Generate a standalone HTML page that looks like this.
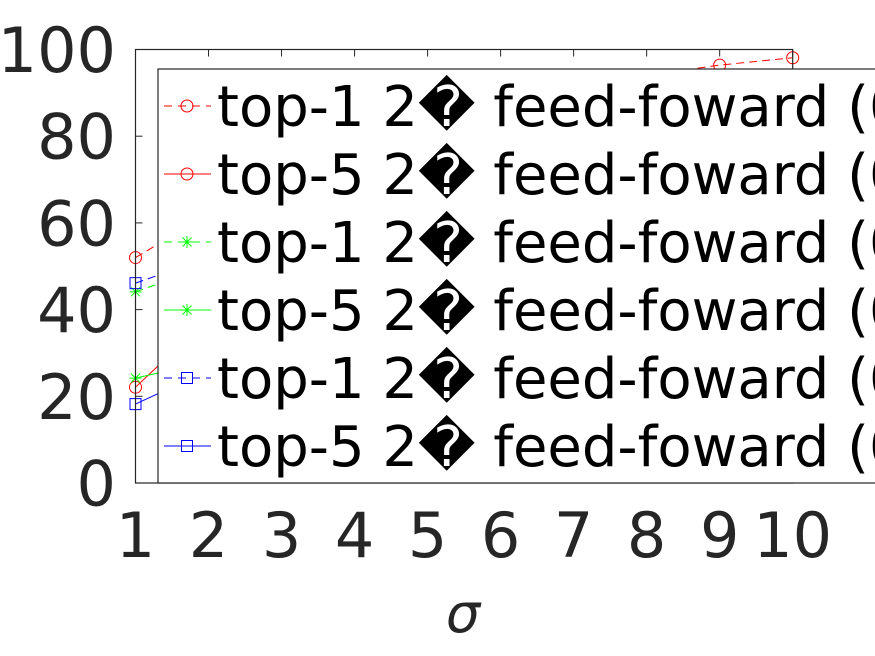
<!DOCTYPE html>
<html><head><meta charset="utf-8"><style>
html,body{margin:0;padding:0;background:#fff;width:875px;height:656px;overflow:hidden}
svg text{font-family:"DejaVu Sans","Liberation Sans",sans-serif}
</style></head><body>
<svg id="chart" width="875" height="656" viewBox="0 0 875 656" xmlns="http://www.w3.org/2000/svg">
<g id="plot"></g>
<g id="axes"></g>
<g id="legend"></g>
</svg>
<script>
const xValues = [1,2,3,4,5,6,7,8,9,10];
const xTicks = [1,2,3,4,5,6,7,8,9,10];
const yTicks = [0,20,40,60,80,100];
const top1Red = [52,62,70,77,83,87,91,94,96.4,98.1];
const top5Red = [22.1,38,50,60,68,75,81,86,90,93];
const top1Green = [44.1,50,56,61,66,70,74,77,80,82];
const top5Green = [24.2,28,32,36,40,44,47,50,53,56];
const top1Blue = [46.1,52,58,63,68,72,76,79,82,84];
const top5Blue = [18.2,26,33,39,45,50,55,59,63,66];
const legendLabels = ["top-1 2\uFFFD feed-foward (0.1)","top-5 2\uFFFD feed-foward (0.1)","top-1 2\uFFFD feed-foward (0.2)","top-5 2\uFFFD feed-foward (0.2)","top-1 2\uFFFD feed-foward (0.3)","top-5 2\uFFFD feed-foward (0.3)"];

const NS="http://www.w3.org/2000/svg";
const X0=135.5,X1=792.7,Y0=483,Y1=49.5;
function xs(v){return X0+(v-1)/(10-1)*(X1-X0);}
function ys(v){return Y0-(v-0)/(100-0)*(Y0-Y1);}
function mk(tag,attrs,parent){const e=document.createElementNS(NS,tag);for(const k in attrs)e.setAttribute(k,attrs[k]);parent.appendChild(e);return e;}

const series=[
 {d:top1Red,c:"#ff0000",dash:"8,5",m:"o",n:"series-top1-red"},
 {d:top5Red,c:"#ff0000",dash:"",m:"o",n:"series-top5-red"},
 {d:top1Green,c:"#00ff00",dash:"8,5",m:"*",n:"series-top1-green"},
 {d:top5Green,c:"#00ff00",dash:"",m:"*",n:"series-top5-green"},
 {d:top1Blue,c:"#0000ff",dash:"8,5",m:"s",n:"series-top1-blue"},
 {d:top5Blue,c:"#0000ff",dash:"",m:"s",n:"series-top5-blue"}
];
function marker(g,t,x,y,c){
 let e;
 if(t==="o"){e=mk("circle",{cx:x,cy:y,r:6,fill:"none",stroke:c,"stroke-width":1},g);}
 else if(t==="s"){e=mk("rect",{x:x-5.5,y:y-5.5,width:11,height:11,fill:"none",stroke:c,"stroke-width":1},g);}
 else{e=mk("path",{d:`M${x-6},${y}H${x+6}M${x},${y-6}V${y+6}M${x-4.5},${y-4.5}L${x+4.5},${y+4.5}M${x-4.5},${y+4.5}L${x+4.5},${y-4.5}`,stroke:c,"stroke-width":1,fill:"none"},g);}
 
 
}
const plot=document.getElementById('plot');
series.forEach(s=>{
 const g=mk("g",{},plot);
 
 
 const pts=s.d.map((v,i)=>xs(xValues[i])+","+ys(v)).join(" ");
 const pl=mk("polyline",{points:pts,fill:"none",stroke:s.c,"stroke-width":1,"stroke-dasharray":s.dash},g);
 
 
 s.d.forEach((v,i)=>marker(g,s.m,xs(xValues[i]),ys(v),s.c));
});
const ax=document.getElementById('axes');
const box=mk("rect",{x:X0,y:Y1,width:X1-X0,height:Y0-Y1,fill:"none",stroke:"#262626","stroke-width":1.2},ax);


xTicks.forEach(t=>{
 const x=xs(t);
 mk("line",{x1:x,y1:Y0,x2:x,y2:Y0-7,stroke:"#262626"},ax);
 mk("line",{x1:x,y1:Y1,x2:x,y2:Y1+7,stroke:"#262626"},ax);
 const tx=mk("text",{x:x,y:557,"text-anchor":"middle","font-size":62,fill:"#262626"},ax);
 tx.textContent=t;
 
 
});
yTicks.forEach(t=>{
 const y=ys(t);
 mk("line",{x1:X0,y1:y,x2:X0+7,y2:y,stroke:"#262626"},ax);
 const tx=mk("text",{x:116,y:y+22.5,"text-anchor":"end","font-size":62,fill:"#262626"},ax);
 tx.textContent=t;
 
 
});
const xl=mk("text",{x:463,y:632,"text-anchor":"middle","font-size":54,"font-style":"italic",fill:"#262626"},ax);
xl.textContent="σ";



const lg=document.getElementById('legend');
const lb=mk("rect",{x:158,y:69,width:740,height:414,fill:"#fff",stroke:"#262626","stroke-width":1.2},lg);


legendLabels.forEach((lab,i)=>{
 const s=series[i];
 const y=106+i*68;
 const g=mk("g",{},lg);
 
 
 mk("line",{x1:164,y1:y,x2:211,y2:y,stroke:s.c,"stroke-width":1,"stroke-dasharray":s.dash?"8,6":""},g);
 marker(g,s.m,187,y,s.c);
 const tx=mk("text",{x:217,y:y+20,"font-size":56,fill:"#000"},g);
 tx.textContent=lab;
 
 
});
</script>
</body></html>
